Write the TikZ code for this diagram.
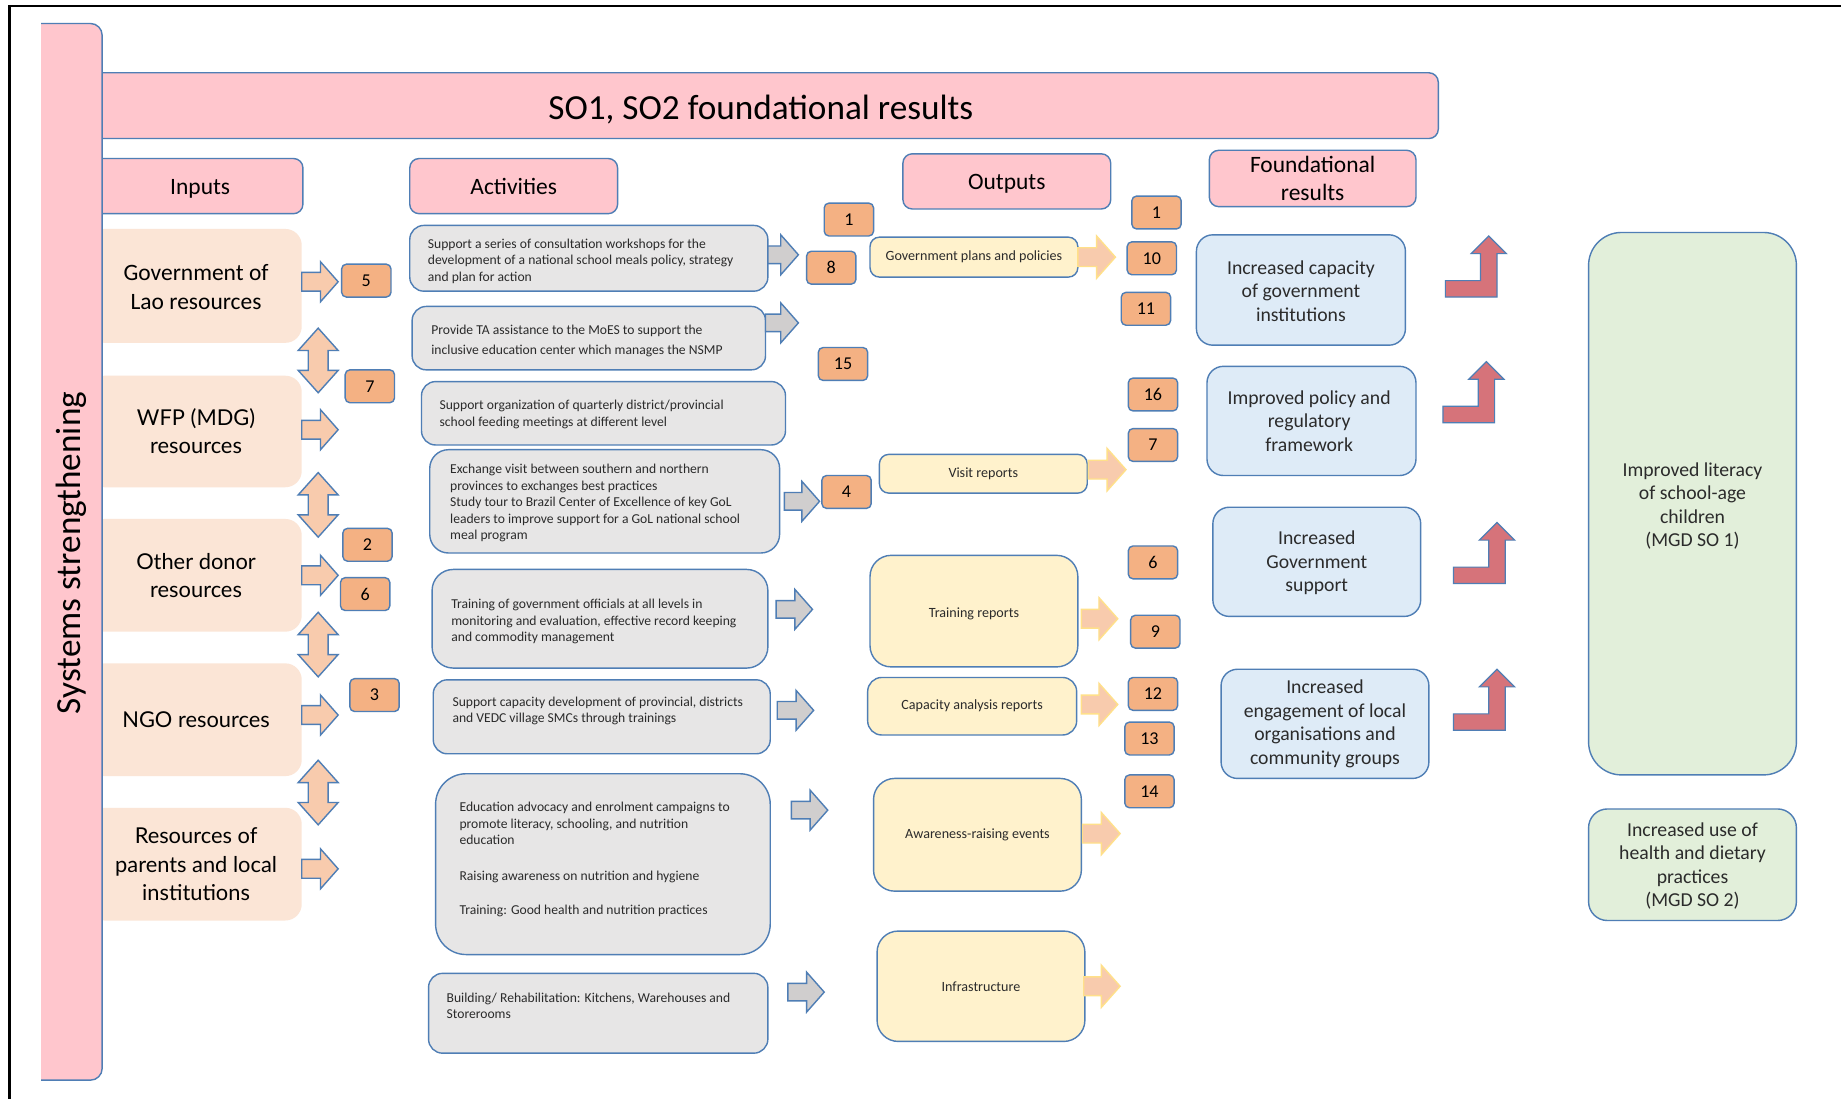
\documentclass[tikz,border=0pt]{standalone}
\usepackage{fontspec}
\setmainfont{Carlito}
\newfontfamily\inputsfont{Lato}
\usetikzlibrary{fit}

\definecolor{bordblue}{HTML}{4F7EB5}
\definecolor{hdrpink}{HTML}{FFC6CD}
\definecolor{inpeach}{HTML}{FBE5D6}
\definecolor{arrpeach}{HTML}{F8CBAD}
\definecolor{numorange}{HTML}{F4B183}
\definecolor{actgray}{HTML}{E7E6E6}
\definecolor{arrgray}{HTML}{D0CECE}
\definecolor{outyellow}{HTML}{FFF2CC}
\definecolor{resblue}{HTML}{DEEBF7}
\definecolor{goalgreen}{HTML}{E2EFDA}
\definecolor{bentred}{HTML}{D6737A}
\definecolor{arrrim}{HTML}{FFE08A}
\definecolor{txtdark}{HTML}{2B2B2B}

\tikzset{
  % block arrow pointing right: length, shaft half-width, head half-width, head length
  pics/rarr/.style n args={4}{code={
    \path[pic actions] (0,-#2) -- ({#1-#4},-#2) -- ({#1-#4},-#3) -- (#1,0)
      -- ({#1-#4},#3) -- ({#1-#4},#2) -- (0,#2) -- cycle;}},
  % vertical double-headed block arrow, centred on its origin
  pics/varr/.style n args={4}{code={
    \path[pic actions] (-#2,{-#1/2+#4}) -- (-#3,{-#1/2+#4}) -- (0,{-#1/2})
      -- (#3,{-#1/2+#4}) -- (#2,{-#1/2+#4}) -- (#2,{#1/2-#4}) -- (#3,{#1/2-#4})
      -- (0,{#1/2}) -- (-#3,{#1/2-#4}) -- (-#2,{#1/2-#4}) -- cycle;}},
  % bent arrow: horizontal foot, then up to an arrow head
  pics/bentarr/.style={code={
    \path[pic actions] (0,0) -- (44,0) -- (44,-37) -- (52,-37) -- (37,-52)
      -- (22,-37) -- (30,-37) -- (30,-14) -- (0,-14) -- cycle;}},
}

\begin{document}
\begin{tikzpicture}[x=0.5pt, y=-0.5pt,
  bx/.style={inner sep=0pt, outer sep=0pt, line width=0.6pt},
  lbl/.style={inner sep=0pt, align=center},
  hdr/.style={bx, draw=bordblue, fill=hdrpink, rounded corners=4pt},
  hdrtext/.style={lbl, font=\fontsize{10}{12}\selectfont},
  inbox/.style={bx, fill=inpeach, rounded corners=7pt},
  intext/.style={lbl, font=\inputsfont\fontsize{9.3}{12}\selectfont},
  numbox/.style={bx, draw=bordblue, fill=numorange, rounded corners=2pt,
    minimum width=21pt, minimum height=14pt, font=\fontsize{7.7}{9}\selectfont},
  actbox/.style={bx, draw=bordblue, fill=actgray, rounded corners=6pt},
  acttext/.style={inner sep=0pt, anchor=west, align=left, text=txtdark,
    font=\fontsize{5.8}{7}\selectfont},
  outbox/.style={bx, draw=bordblue, fill=outyellow, rounded corners=#1},
  outtext/.style={lbl, text=txtdark, font=\fontsize{6}{7}\selectfont},
  resbox/.style={bx, draw=bordblue, fill=resblue, rounded corners=7pt},
  restext/.style={lbl, text=txtdark, font=\fontsize{8.4}{10}\selectfont},
  goalbox/.style={bx, draw=bordblue, fill=goalgreen, rounded corners=#1},
  peacharr/.style={fill=arrpeach, draw=bordblue, line width=0.6pt},
  grayarr/.style={fill=arrgray, draw=bordblue, line width=0.6pt},
  softarr/.style={fill=arrpeach, draw=arrrim, line width=0.6pt},
  redarr/.style={fill=bentred, draw=bordblue, line width=0.5pt},
]
\useasboundingbox (0,0) rectangle (1568,936);
\fill[white] (0,0) rectangle (1568,936);

% outer frame
\draw[line width=1pt] (8,936) -- (8,5) -- (1568,5);

% ---------------- inputs column ----------------
\node[inbox, fit={(75,195)(257,292)}] (in1) {};
\node[inbox, fit={(75,320)(257,415)}] (in2) {};
\node[inbox, fit={(75,442)(257,538)}] (in3) {};
\node[inbox, fit={(75,565)(257,661)}] (in4) {};
\node[inbox, fit={(75,688)(257,784)}] (in5) {};
\node[lbl, font=\fontsize{10}{12}\selectfont] (in1-t) at ([xshift=0.5pt,yshift=-0.5pt]in1.center) {Government of\\Lao resources};
\node[intext] (in2-t) at ([xshift=0.5pt]in2.center) {WFP (MDG)\\resources};
\node[intext] (in3-t) at ([xshift=0.5pt]in3.center) {Other donor\\resources};
\node[intext] (in4-t) at ([xshift=0.5pt]in4.center) {NGO resources};
\node[intext] (in5-t) at ([xshift=0.5pt]in5.center) {Resources of\\parents and local\\institutions};

% title and column headers
\node[hdr, fit={(75,62)(1225,118)}] (title) {};
\node[hdrtext, font=\fontsize{15}{18}\selectfont] (title-t) at ([xshift=-1pt,yshift=-1.5pt]title.center) {SO1, SO2 foundational results};
\node[hdr, fit={(75,135)(258,182)}] (hin) {};
\node[hdrtext] (hin-t) at ([xshift=2pt,yshift=-1pt]hin.center) {Inputs};
\node[hdr, fit={(349,135)(526,182)}] (hact) {};
\node[hdrtext] (hact-t) at (hact.center) {Activities};
\node[hdr, fit={(769,131)(946,178)}] (hout) {};
\node[hdrtext] (hout-t) at ([yshift=-1pt]hout.center) {Outputs};
\node[hdr, fit={(1030,128)(1206,176)}] (hfr) {};
\node[hdrtext] (hfr-t) at (hfr.center) {Foundational\\results};

% vertical band
\begin{scope}
  \clip (35,0) rectangle (200,936);
  \node[bx, draw=bordblue, fill=hdrpink, rounded corners=5pt, fit={(15,20)(87,920)}] (sysbar) {};
\end{scope}
\node[inner sep=0pt, rotate=90, font=\fontsize{15}{18}\selectfont] (systxt) at (61,471) {Systems strengthening};

% input arrows
\pic[peacharr] at (in1.east |- 0,240) {rarr={31}{8}{17}{15}};
\pic[peacharr] at (in2.east |- 0,366) {rarr={31}{8}{17}{15}};
\pic[peacharr] at (in3.east |- 0,490) {rarr={31}{8}{17}{15}};
\pic[peacharr] at (in4.east |- 0,609) {rarr={31}{8}{17}{15}};
\pic[peacharr] at (in5.east |- 0,740) {rarr={31}{8}{17}{15}};
\pic[peacharr] at (271,307) {varr={55}{8.5}{17}{19}};
\pic[peacharr] at (271,430) {varr={55}{8.5}{17}{19}};
\pic[peacharr] at (271,549) {varr={55}{8.5}{17}{19}};
\pic[peacharr] at (271,675) {varr={55}{8.5}{17}{19}};

% numbers beside the inputs
\node[numbox] (nl5) at (312,239) {5};
\node[numbox] (nl7) at (315,329) {7};
\node[numbox] (nl2) at (313,464) {2};
\node[numbox] (nl6) at (311,506) {6};
\node[numbox] (nl3) at (319,592) {3};

% ---------------- activities column ----------------
\node[actbox, fit={(349,192)(654,248)}] (a1) {};
\node[acttext] (t1) at (364,222.5) {Support a series of consultation workshops for the\\development of a national school meals policy, strategy\\and plan for action};
\node[actbox, fit={(351,261)(652,315)}] (a2) {};
\node[acttext, font=\fontsize{5.8}{8.5}\selectfont] (t2) at (367,290) {Provide TA assistance to the MoES to support the\\inclusive education center which manages the NSMP};
\node[actbox, fit={(359,325)(669,379)}] (a3) {};
\node[acttext, font=\fontsize{5.8}{7.5}\selectfont] (t3) at (374,353) {Support organization of quarterly district/provincial\\school feeding meetings at different level};
\node[actbox, rounded corners=8pt, fit={(366,383)(664,471)}] (a4) {};
\node[acttext] (t4) at (383,428.5) {Exchange visit between southern and northern\\provinces to exchanges best practices\\Study tour to Brazil Center of Excellence of key GoL\\leaders to improve support for a GoL national school\\meal program};
\node[actbox, rounded corners=9pt, fit={(368,485)(654,569)}] (a5) {};
\node[acttext] (t5) at (384,529.5) {Training of government officials at all levels in\\monitoring and evaluation, effective record keeping\\and commodity management};
\node[actbox, fit={(369,579)(656,642)}] (a6) {};
\node[acttext] (t6) at (385,605.5) {Support capacity development of provincial, districts\\and VEDC village SMCs through trainings};
\node[actbox, rounded corners=13pt, fit={(371,659)(656,813)}] (a7) {};
\node[acttext] (t7) at (391,732) {Education advocacy and enrolment campaigns to\\promote literacy, schooling, and nutrition\\education\\[8pt]Raising awareness on nutrition and hygiene\\[7.5pt]Training: Good health and nutrition practices};
\node[actbox, fit={(365,829)(654,897)}] (a8) {};
\node[acttext] (t8) at (380,856.5) {Building/ Rehabilitation: Kitchens, Warehouses and\\Storerooms};

% activity arrows
\pic[grayarr] at (a1.east |- 0,217) {rarr={26}{7.5}{17}{15}};
\pic[grayarr] at (a2.east |- 0,275) {rarr={28}{7.5}{17}{15}};
\pic[grayarr] at (668,427) {rarr={30}{7.5}{17}{15}};
\pic[grayarr] at (661,519) {rarr={31}{7.5}{17}{15}};
\pic[grayarr] at (662,605) {rarr={31}{7.5}{17}{15}};
\pic[grayarr] at (674,690) {rarr={31}{7.5}{17}{15}};
\pic[grayarr] at (671,845) {rarr={31}{7.5}{17}{15}};

% numbers beside the activities
\node[numbox] (nm1) at (723,187) {1};
\node[numbox] (nm8) at (708,228) {8};
\node[numbox] (nm15) at (718,310) {15};
\node[numbox] (nm4) at (721,419) {4};

% ---------------- outputs column ----------------
\node[outbox=4pt, fit={(741,202)(918,236)}] (o1) {};
\node[outtext] (o1-t) at (o1.center) {Government plans and policies};
\node[outbox=4pt, fit={(749,387)(926,420)}] (o2) {};
\node[outtext] (o2-t) at (o2.center) {Visit reports};
\node[outbox=9pt, fit={(741,473)(918,568)}] (o3) {};
\node[outtext] (o3-t) at ([yshift=-1pt]o3.center) {Training reports};
\node[outbox=6pt, fit={(739,577)(917,626)}] (o4) {};
\node[outtext] (o4-t) at (o4.center) {Capacity analysis reports};
\node[outbox=9pt, fit={(744,663)(921,759)}] (o5) {};
\node[outtext] (o5-t) at (o5.center) {Awareness-raising events};
\node[outbox=9pt, fit={(747,793)(924,887)}] (o6) {};
\node[outtext] (o6-t) at (o6.center) {Infrastructure};

\pic[softarr] at (o1.east |- 0,219) {rarr={32}{8}{18}{16}};
\pic[softarr] at (927,400) {rarr={32}{8}{18}{16}};
\pic[softarr] at (921,527) {rarr={31}{8}{18}{16}};
\pic[softarr] at (921,600) {rarr={31}{8}{18}{16}};
\pic[softarr] at (922,710) {rarr={32}{8}{18}{16}};
\pic[softarr] at (923,840) {rarr={31}{8}{18}{16}};

% numbers beside the outputs
\node[numbox] (nr1) at (985,181) {1};
\node[numbox] (nr10) at (981,220) {10};
\node[numbox] (nr11) at (976,263) {11};
\node[numbox] (nr16) at (982,336) {16};
\node[numbox] (nr7) at (982,379) {7};
\node[numbox] (nr6) at (982,479) {6};
\node[numbox] (nr9) at (984,538) {9};
\node[numbox] (nr12) at (982,591) {12};
\node[numbox] (nr13) at (979,629) {13};
\node[numbox] (nr14) at (979,674) {14};

% ---------------- foundational results ----------------
\node[resbox, fit={(1019,200)(1197,294)}] (f1) {};
\node[restext] (f1-t) at ([yshift=-0.5pt]f1.center) {Increased capacity\\of government\\institutions};
\node[resbox, fit={(1028,312)(1206,405)}] (f2) {};
\node[restext] (f2-t) at ([xshift=-1pt]f2.center) {Improved policy and\\regulatory\\framework};
\node[resbox, fit={(1033,432)(1210,525)}] (f3) {};
\node[restext] (f3-t) at ([yshift=-0.5pt]f3.center) {Increased\\Government\\support};
\node[resbox, fit={(1040,570)(1217,663)}] (f4) {};
\node[restext] (f4-t) at (f4.center) {Increased\\engagement of local\\organisations and\\community groups};

\pic[redarr] at (1231,253) {bentarr};
\pic[redarr] at (1229,360) {bentarr};
\pic[redarr] at (1238,497) {bentarr};
\pic[redarr] at (1238,622) {bentarr};

% ---------------- strategic objectives ----------------
\node[goalbox=14pt, fit={(1353,198)(1530,660)}] (g1) {};
\node[restext] (g1-t) at ([yshift=-1pt]g1.center) {Improved literacy\\of school-age\\children\\(MGD SO 1)};
\node[goalbox=8pt, fit={(1353,689)(1530,784)}] (g2) {};
\node[restext] (g2-t) at ([yshift=-0.5pt]g2.center) {Increased use of\\health and dietary\\practices\\(MGD SO 2)};
\end{tikzpicture}
\end{document}
